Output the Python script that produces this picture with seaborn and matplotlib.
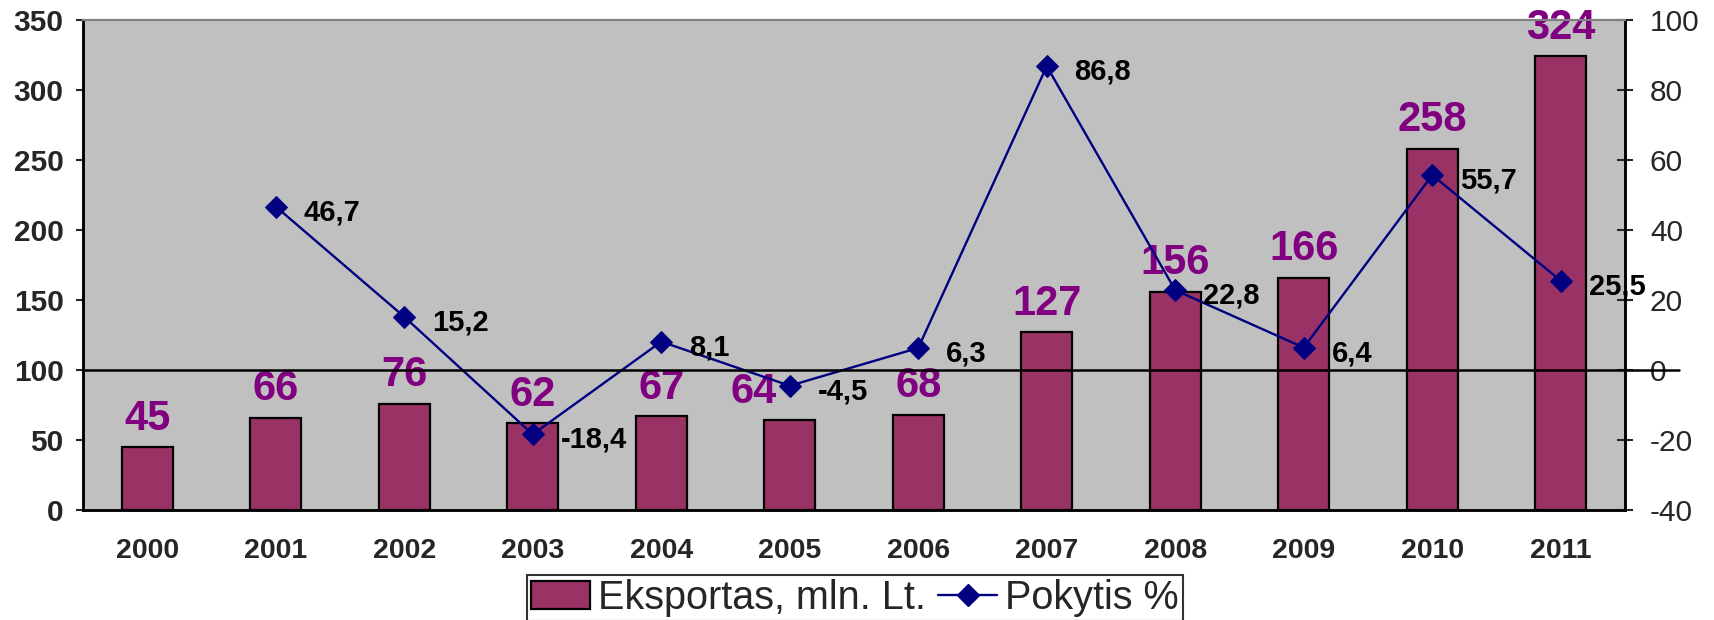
import matplotlib
matplotlib.use("Agg")
import matplotlib.pyplot as plt
from matplotlib.patches import Patch
from matplotlib.lines import Line2D
import numpy as np
import pandas as pd
import seaborn as sns

years = ["2000", "2001", "2002", "2003", "2004", "2005",
         "2006", "2007", "2008", "2009", "2010", "2011"]
export = [45, 66, 76, 62, 67, 64, 68, 127, 156, 166, 258, 324]
change = [np.nan, 46.7, 15.2, -18.4, 8.1, -4.5, 6.3, 86.8, 22.8, 6.4, 55.7, 25.5]

bar_color = "#993366"
line_color = "#000080"
label_purple = "#800080"

sns.set_style("white")
plt.rcParams["font.family"] = ["Liberation Sans", "DejaVu Sans"]
plt.rcParams["axes.unicode_minus"] = False

df = pd.DataFrame({"year": years, "export": export, "change": change})
df["pos"] = np.arange(len(df))

fig = plt.figure(figsize=(17.15, 6.2), dpi=100)
ax = fig.add_axes([83 / 1715, 1 - 510 / 620, (1625 - 83) / 1715, 490 / 620])
ax.set_facecolor("#C0C0C0")

sns.barplot(data=df, x="year", y="export", ax=ax, color=bar_color,
            saturation=1, width=0.4, edgecolor="black", linewidth=1.6)
ax.set_xlim(-0.5, len(years) - 0.5)
ax.set_ylim(0, 350)
ax.set_yticks(range(0, 351, 50))
ax.set_xticks(np.arange(len(years)) + 0.5, minor=True)
ax.set_xlabel("")
ax.set_ylabel("")

for p, v in zip(df["pos"], df["export"]):
    # the 2005 label sits left of its bar in the original, clear of the marker
    dx = -26 if v == 64 else 0
    ax.annotate(str(v), (p, v), xytext=(dx, 6), textcoords="offset points",
                ha="center", va="bottom", fontsize=30, fontweight="bold",
                color=label_purple)

ax.tick_params(axis="y", direction="out", length=5, width=1.5, pad=9,
               labelsize=21.5)
ax.tick_params(axis="x", which="major", length=0, pad=20, labelsize=20.5)
ax.tick_params(axis="x", which="minor", direction="inout", length=12,
               width=1.5)
for lab in ax.get_xticklabels() + ax.get_yticklabels():
    lab.set_fontweight("bold")

ax2 = ax.twinx()
sns.lineplot(data=df, x="pos", y="change", ax=ax2, color=line_color,
             linewidth=1.7, marker="D", markersize=11, markeredgecolor=line_color)
ax2.set_ylim(-40, 100)
ax2.set_yticks(range(-40, 101, 20))
ax2.set_xlim(-0.5, len(years) - 0.5)
ax2.set_ylabel("")
ax2.set_xlabel("")
ax2.axhline(0, color="black", linewidth=1.8, xmin=0, xmax=1.035, clip_on=False)
ax2.tick_params(axis="y", direction="inout", length=12, width=1.5, pad=12,
                labelsize=21.5)

for p, v in zip(df["pos"], df["change"]):
    if np.isnan(v):
        continue
    ax2.annotate(f"{v:.1f}".replace(".", ","), (p, v), xytext=(20, -4),
                 textcoords="offset points", ha="left", va="center",
                 fontsize=21, fontweight="bold", color="black")

for a in (ax, ax2):
    a.spines["top"].set_color("#808080")
    a.spines["top"].set_linewidth(1.5)
    for s in ("left", "right", "bottom"):
        a.spines[s].set_color("black")
        a.spines[s].set_linewidth(1.8)

handles = [Patch(facecolor=bar_color, edgecolor="black", linewidth=1.6),
           Line2D([], [], color=line_color, linewidth=1.7, marker="D",
                  markersize=11)]
leg = fig.legend(handles, ["Eksportas, mln. Lt.", "Pokytis %"], ncol=2,
                 loc="upper center", bbox_to_anchor=(855 / 1715, 1 - 575 / 620),
                 fontsize=28.5, frameon=True, fancybox=False, borderpad=0.1,
                 handlelength=1.5, handletextpad=0.2, columnspacing=0.3,
                 borderaxespad=0)
leg.get_frame().set_edgecolor("black")
leg.get_frame().set_linewidth(1.5)

fig.savefig("out.png", dpi=100)
